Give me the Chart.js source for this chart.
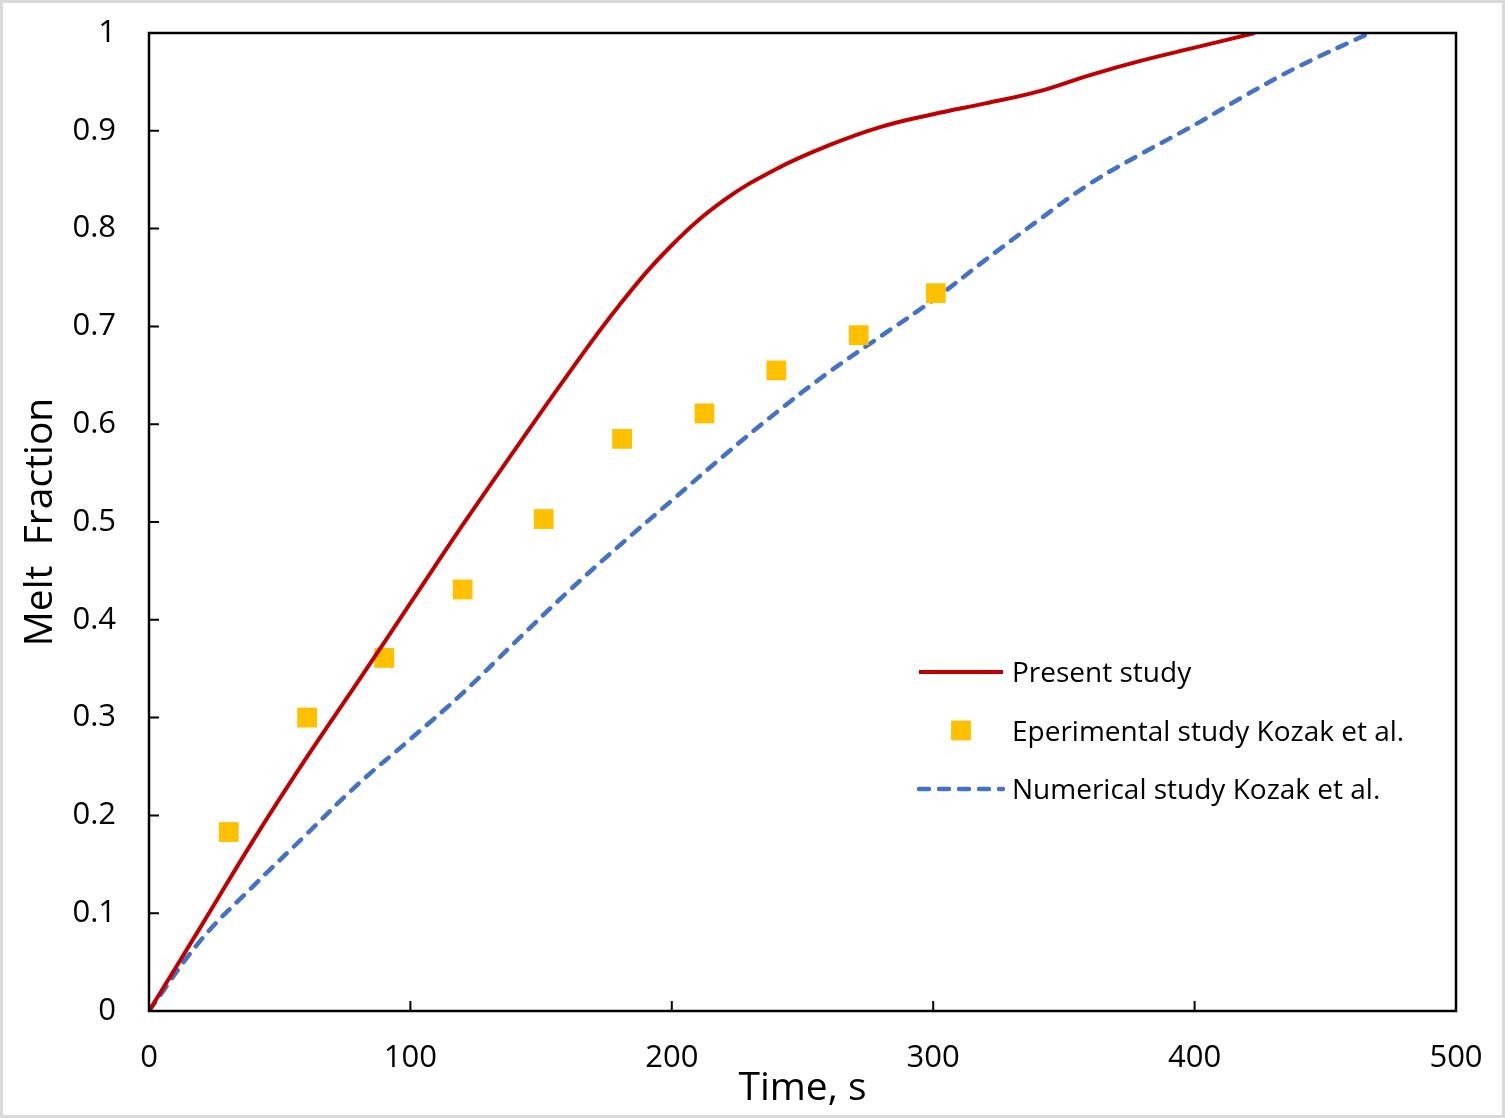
<!DOCTYPE html>
<html>
<head>
<meta charset="utf-8">
<title>Melt fraction vs time</title>
<script src="https://cdn.jsdelivr.net/npm/chart.js@4.4.1/dist/chart.umd.min.js"></script>
<style>
  html, body { margin: 0; padding: 0; background: #fff; }
  #wrap { width: 1505px; height: 1118px; box-sizing: border-box; border: 3px solid #d9d9d9; background: #fff; }
  canvas { display: block; }
</style>
</head>
<body>
<div id="wrap"><canvas id="chart" width="1499" height="1112"></canvas></div>
<script>
// values
const presentTime = [0, 20, 40, 60, 80, 100, 120, 140, 160, 180, 200, 220, 240, 260, 280, 300, 320, 340, 360, 380, 400, 423];
const presentFrac = [0, 0.087, 0.175, 0.258, 0.337, 0.417, 0.497, 0.574, 0.650, 0.722, 0.783, 0.829, 0.861, 0.885, 0.904, 0.917, 0.928, 0.940, 0.957, 0.972, 0.985, 1.0];

const expTime = [30.5, 60.5, 90, 120, 151, 181, 212.5, 240, 271.5, 301];
const expFrac = [0.183, 0.300, 0.361, 0.431, 0.503, 0.585, 0.611, 0.655, 0.691, 0.734];

const numTime = [0, 20, 40, 60, 80, 100, 120, 140, 160, 180, 200, 220, 240, 260, 280, 300, 320, 340, 360, 380, 400, 420, 440, 467];
const numFrac = [0, 0.073, 0.128, 0.180, 0.232, 0.278, 0.325, 0.377, 0.428, 0.476, 0.522, 0.568, 0.612, 0.653, 0.690, 0.727, 0.768, 0.808, 0.846, 0.877, 0.906, 0.937, 0.966, 1.0];

const xTicks = [0, 100, 200, 300, 400, 500];
const yTicks = [0, 0.1, 0.2, 0.3, 0.4, 0.5, 0.6, 0.7, 0.8, 0.9, 1];

const seriesLabels = ["Present study", "Eperimental study Kozak et al.", "Numerical study Kozak et al."];

const zip = (xs, ys) => xs.map((x, i) => ({ x: x, y: ys[i] }));

const FONT = "'Open Sans', 'Noto Sans', sans-serif";

// black frame round the plot area
const framePlugin = {
  id: "frame",
  afterDraw(chart) {
    const { ctx, chartArea: a } = chart;
    ctx.save();
    ctx.strokeStyle = "#000";
    ctx.lineWidth = 2.5;
    ctx.strokeRect(a.left, a.top, a.right - a.left, a.bottom - a.top);
    ctx.restore();
  }
};

// tick marks pointing into the plot, like the original
const inwardTicks = {
  id: "inwardTicks",
  afterDraw(chart, args, opts) {
    const { ctx, chartArea: a, scales } = chart;
    const len = opts.length || 10;
    ctx.save();
    ctx.strokeStyle = "#000";
    ctx.lineWidth = 2;
    ctx.beginPath();
    scales.x.ticks.forEach(t => {
      const px = scales.x.getPixelForValue(t.value);
      ctx.moveTo(px, a.bottom);
      ctx.lineTo(px, a.bottom - len);
    });
    scales.y.ticks.forEach(t => {
      const py = scales.y.getPixelForValue(t.value);
      ctx.moveTo(a.left, py);
      ctx.lineTo(a.left + len, py);
    });
    ctx.stroke();
    ctx.restore();
  }
};

// legend inside the plot, lower right
const boxLegend = {
  id: "boxLegend",
  afterDraw(chart, args, opts) {
    const { ctx } = chart;
    ctx.save();
    ctx.font = "28px " + FONT;
    ctx.textAlign = "left";
    ctx.textBaseline = "alphabetic";
    chart.data.datasets.forEach((ds, i) => {
      const y = opts.top + i * opts.rowGap;
      if (ds.showLine === false) {
        const s = ds.pointRadius * Math.SQRT2;
        ctx.fillStyle = ds.pointBackgroundColor;
        ctx.fillRect((opts.symLeft + opts.symRight) / 2 - s / 2, y - s / 2, s, s);
      } else {
        ctx.strokeStyle = ds.borderColor;
        ctx.lineWidth = ds.borderWidth;
        ctx.lineCap = ds.borderCapStyle || "butt";
        ctx.setLineDash(ds.borderDash || []);
        ctx.beginPath();
        ctx.moveTo(opts.symLeft, y);
        ctx.lineTo(opts.symRight, y);
        ctx.stroke();
        ctx.setLineDash([]);
      }
      ctx.fillStyle = "#000";
      ctx.fillText(ds.label, opts.textLeft, y + 10);
    });
    ctx.restore();
  }
};

// the gap between labels and axis is made with invisible tick marks,
// so that it does not get added to the plot-area padding
const hiddenTickGrid = len => ({ drawOnChartArea: false, drawTicks: true, tickLength: len, tickColor: "rgba(0,0,0,0)", color: "rgba(0,0,0,0)" });

new Chart(document.getElementById("chart"), {
  type: "line",
  data: {
    datasets: [
      {
        label: seriesLabels[0],
        data: zip(presentTime, presentFrac),
        borderColor: "#C00000",
        borderWidth: 4,
        pointRadius: 0,
        tension: 0.4,
        fill: false
      },
      {
        label: seriesLabels[1],
        data: zip(expTime, expFrac),
        showLine: false,
        pointStyle: "rect",
        pointRadius: 14,
        pointBorderWidth: 0,
        pointBackgroundColor: "#FFC000",
        pointBorderColor: "#FFC000"
      },
      {
        label: seriesLabels[2],
        data: zip(numTime, numFrac),
        borderColor: "#4472C4",
        borderWidth: 4.5,
        borderDash: [10, 10],
        borderCapStyle: "round",
        pointRadius: 0,
        tension: 0.4,
        fill: false
      }
    ]
  },
  options: {
    responsive: false,
    animation: false,
    devicePixelRatio: 1,
    layout: { padding: { top: 30, right: 46, left: 0, bottom: 0 } },
    plugins: {
      legend: { display: false },
      tooltip: { enabled: false },
      inwardTicks: { length: 10 },
      boxLegend: { top: 669, rowGap: 58.5, symLeft: 916, symRight: 1000, textLeft: 1009 }
    },
    scales: {
      x: {
        type: "linear",
        min: 0,
        max: 500,
        afterBuildTicks: s => { s.ticks = xTicks.map(v => ({ value: v })); },
        afterFit: s => { s.height = 104; },
        ticks: { color: "#000", font: { family: FONT, size: 31 }, padding: 0, maxRotation: 0,
                 callback: v => String(v) },
        grid: hiddenTickGrid(29),
        border: { display: false },
        title: { display: true, text: "Time, s", color: "#000", font: { family: FONT, size: 39 }, padding: { top: 3, bottom: 3 } }
      },
      y: {
        min: 0,
        max: 1,
        afterBuildTicks: s => { s.ticks = yTicks.map(v => ({ value: v })); },
        afterFit: s => { s.width = 146; },
        ticks: { color: "#000", font: { family: FONT, size: 31 }, padding: 0,
                 callback: v => String(Number(v.toFixed(2))) },
        grid: hiddenTickGrid(33),
        border: { display: false },
        title: { display: true, text: "Melt  Fraction", color: "#000", font: { family: FONT, size: 39 }, padding: { top: 14, bottom: 14 } }
      }
    }
  },
  plugins: [framePlugin, inwardTicks, boxLegend]
});
</script>
</body>
</html>
